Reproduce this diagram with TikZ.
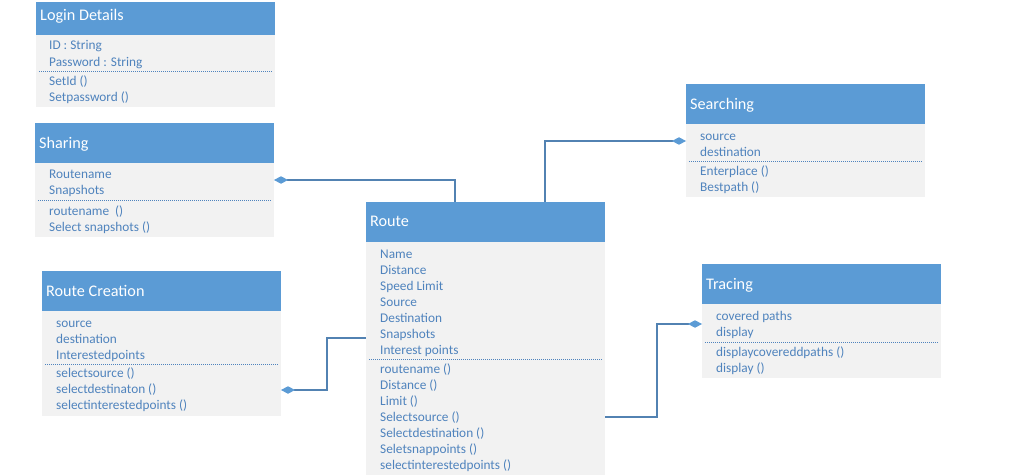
\documentclass[tikz,border=0pt]{standalone}
\usepackage{fontspec}
\setmainfont{Carlito}
\usetikzlibrary{arrows.meta}
\definecolor{hdrblue}{HTML}{5B9BD5}
\definecolor{bodygray}{HTML}{F2F2F2}
\definecolor{itemblue}{HTML}{4F83BD}
\definecolor{linkblue}{HTML}{5282B2}
\tikzset{
  hdr/.style={draw=none, fill=hdrblue, anchor=north west, minimum width=239pt, inner sep=0pt, outer sep=0pt},
  bodybox/.style={draw=none, fill=bodygray, anchor=north west, minimum width=239pt, inner sep=0pt, outer sep=0pt},
  ttl/.style={anchor=west, inner sep=0pt, yshift=-2.5pt, text=white, font=\fontsize{16.2}{18}\selectfont, text height=0.72em, text depth=0.2em},
  itm/.style={anchor=west, inner sep=0pt, yshift=-2.2pt, text=itemblue, font=\fontsize{13.3}{16}\selectfont, text height=0.72em, text depth=0.2em},
  sep/.style={draw=itemblue, line width=0.6pt, dash pattern=on 1pt off 1pt},
  conn/.style={draw=linkblue, line width=1.1pt},
  dia/.tip={Diamond[width=7.5pt,length=14pt,fill=hdrblue,color=hdrblue]}
}
\begin{document}
\begin{tikzpicture}[x=1pt,y=-1pt]
\useasboundingbox[fill=white] (0,0) rectangle (1012,476);
% Login Details
\node[hdr, minimum height=33pt] (loginH) at (36,2) {};
\node[bodybox, minimum height=72pt] (loginB) at (36,35) {};
\node[ttl] (loginT) at (40,15) {Login Details};
\foreach \t/\yy in {ID : String/45, Password : String/62, SetId ()/81, Setpassword ()/97}
  \node[itm] at (49,\yy) {\t};
\draw[sep] (39,71) -- (272,71);
% Sharing
\node[hdr, minimum height=40pt] (shareH) at (35,123) {};
\node[bodybox, minimum height=74pt] (shareB) at (35,163) {};
\node[ttl] (shareT) at (39,143) {Sharing};
\foreach \t/\yy in {Routename/174, Snapshots/190, routename~~()/211, Select snapshots ()/227}
  \node[itm] at (49,\yy) {\t};
\draw[sep] (38,200) -- (271,200);
% Route Creation
\node[hdr, minimum height=40pt] (rcH) at (42,271) {};
\node[bodybox, minimum height=105pt] (rcB) at (42,311) {};
\node[ttl] (rcT) at (46,291) {Route Creation};
\foreach \t/\yy in {source/323, destination/339, Interestedpoints/355, selectsource ()/373, selectdestinaton ()/389, selectinterestedpoints ()/405}
  \node[itm] at (56,\yy) {\t};
\draw[sep] (45,364) -- (278,364);
% Route
\node[hdr, minimum height=40pt] (routeH) at (366,202) {};
\node[bodybox, minimum height=233pt] (routeB) at (366,242) {};
\node[ttl] (routeT) at (370,221) {Route};
\foreach \t/\yy in {Name/254, Distance/270, Speed Limit/286, Source/302, Destination/318, Snapshots/334, Interest points/350, routename ()/369, Distance ()/385, Limit ()/401, Selectsource ()/417, Selectdestination ()/433, Seletsnappoints ()/449, selectinterestedpoints ()/465}
  \node[itm] at (380,\yy) {\t};
\draw[sep] (369,359) -- (602,359);
% Searching
\node[hdr, minimum height=40pt] (searchH) at (686,84) {};
\node[bodybox, minimum height=73pt] (searchB) at (686,124) {};
\node[ttl] (searchT) at (690,104) {Searching};
\foreach \t/\yy in {source/136, destination/152, Enterplace ()/171, Bestpath ()/187}
  \node[itm] at (700,\yy) {\t};
\draw[sep] (689,161) -- (922,161);
% Tracing
\node[hdr, minimum height=40pt] (traceH) at (702,264) {};
\node[bodybox, minimum height=74pt] (traceB) at (702,304) {};
\node[ttl] (traceT) at (706,284) {Tracing};
\foreach \t/\yy in {covered paths/316, display/332, displaycovereddpaths ()/352, display ()/368}
  \node[itm] at (716,\yy) {\t};
\draw[sep] (705,342) -- (938,342);
% connectors
\draw[conn, dia-] ([yshift=-17pt]shareB.north east) -| ([xshift=-30.5pt]routeH.north);
\draw[conn, -dia] ([xshift=59.5pt]routeH.north) |- ([yshift=-17pt]searchB.north west);
\draw[conn, dia-] ([yshift=-79pt]rcB.north east) -| ([xshift=-39pt,yshift=-96pt]routeB.north west) -- ([yshift=-96pt]routeB.north west);
\draw[conn, -dia] ([yshift=-175pt]routeB.north east) -| ([xshift=-45pt,yshift=-20pt]traceB.north west) -- ([yshift=-20pt]traceB.north west);
\end{tikzpicture}
\end{document}
